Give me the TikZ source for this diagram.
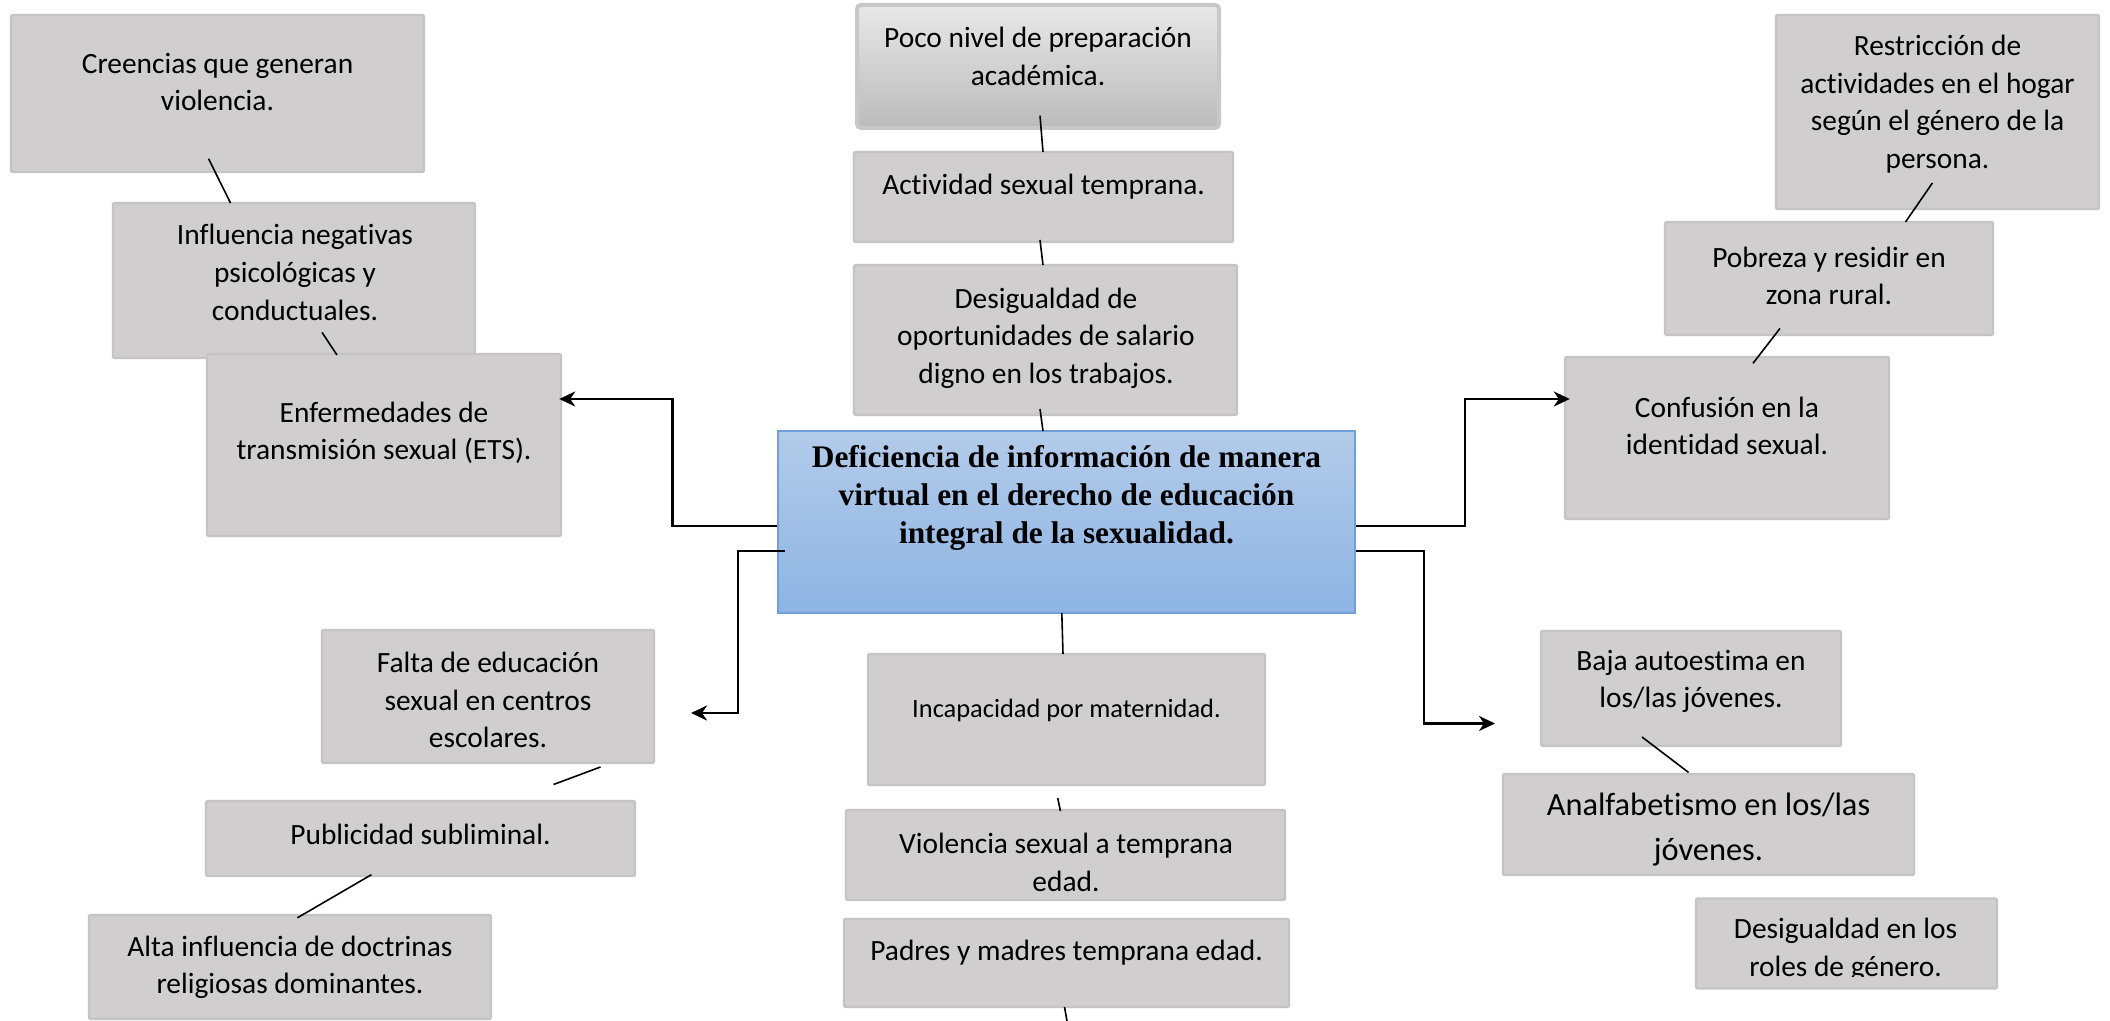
\documentclass[tikz,border=0pt]{standalone}
\usepackage{fontspec}
\setmainfont{Carlito}[Ligatures=CommonOff]
\newfontfamily\serifb{Liberation Serif}
\usetikzlibrary{arrows.meta,calc}
\definecolor{boxfill}{RGB}{208,206,207}
\definecolor{boxline}{RGB}{197,195,196}
\definecolor{pocotop}{RGB}{233,232,233}
\definecolor{pocomid}{RGB}{225,224,225}
\definecolor{pocobot}{RGB}{188,187,188}
\definecolor{pocoline}{RGB}{200,200,200}
\definecolor{ctop}{RGB}{179,203,234}
\definecolor{cbot}{RGB}{141,180,227}
\definecolor{cline}{RGB}{111,160,220}
\begin{document}
\begin{tikzpicture}[x=0.5pt,y=-0.5pt,
  gbox/.style={draw=boxline, fill=boxfill, line width=1.2pt, rounded corners=1pt, inner sep=0pt},
  txt/.style={align=center, inner sep=0pt, font=\fontsize{14.7}{18.8}\selectfont},
  link/.style={line width=0.8pt},
  arr/.style={line width=1.3pt, -{Stealth[length=8pt,width=7.5pt,inset=2.5pt]}}]
\useasboundingbox (0,0) rectangle (2110,1021);
\fill[white] (0,0) rectangle (2110,1021);

% boxes
\node[gbox, minimum width=206.5pt, minimum height=78.5pt] (cre) at (217.5,93.5) {};
\node[gbox, minimum width=181pt, minimum height=77.5pt] (inf) at (294,280.5) {};
\node[gbox, minimum width=177pt, minimum height=91pt] (enf) at (384,445) {};
\node[draw=pocoline, line width=2pt, rounded corners=2pt, top color=pocotop, middle color=pocomid, bottom color=pocobot, inner sep=0pt, minimum width=181pt, minimum height=61.5pt] (poco) at (1038,66.5) {};
\node[gbox, minimum width=189.5pt, minimum height=45pt] (act) at (1043.5,197) {};
\node[gbox, minimum width=191.5pt, minimum height=75pt] (des) at (1045.5,340) {};
\node[draw=cline, line width=1pt, top color=ctop, bottom color=cbot, inner sep=0pt, minimum width=288.5pt, minimum height=91pt] (central) at (1066.5,522) {};
\node[gbox, minimum width=161.5pt, minimum height=97pt] (res) at (1937.5,112) {};
\node[gbox, minimum width=164pt, minimum height=56.5pt] (pob) at (1829,278.5) {};
\node[gbox, minimum width=162pt, minimum height=81pt] (conf) at (1727,438) {};
\node[gbox, minimum width=166pt, minimum height=66.5pt] (fal) at (488,696.5) {};
\node[gbox, minimum width=214.5pt, minimum height=37.5pt] (pub) at (420.5,838.5) {};
\node[gbox, minimum width=201pt, minimum height=52pt] (alta) at (290,967) {};
\node[gbox, minimum width=198.5pt, minimum height=65.5pt] (inc) at (1066.5,719.5) {};
\node[gbox, minimum width=219.5pt, minimum height=45pt] (vio) at (1065.5,855) {};
\node[gbox, minimum width=222.5pt, minimum height=44pt] (pad) at (1066.5,963) {};
\node[gbox, minimum width=150pt, minimum height=57.5pt] (baja) at (1691,688.5) {};
\node[gbox, minimum width=205.5pt, minimum height=50.5pt] (ana) at (1708.5,824.5) {};
\node[gbox, minimum width=150.5pt, minimum height=45pt] (rol) at (1846.5,943.5) {};

% texts
\node[txt] (cre-t) at (217.5,82) {Creencias que generan\\violencia.};
\node[txt] (inf-t) at (295,272.5) {Influencia negativas\\psicológicas y\\conductuales.};
\node[txt] (enf-t) at (384,433) {Enfermedades de\\transmisión sexual (ETS).};
\node[txt] (poco-t) at (1038,56.5) {Poco nivel de preparación\\académica.};
\node[txt] (act-t) at (1043.5,187) {Actividad sexual temprana.};
\node[txt] (des-t) at (1046,338) {Desigualdad de\\oportunidades de salario\\digno en los trabajos.};
\node[txt, font=\serifb\bfseries\fontsize{15.7}{18.85}\selectfont] (central-t) at (1066.5,498) {Deficiencia de información de manera\\virtual en el derecho de educación\\integral de la sexualidad.};
\node[txt] (res-t) at (1937.5,104.3) {Restricción de\\actividades en el hogar\\según el género de la\\persona.};
\node[txt] (pob-t) at (1829,276) {Pobreza y residir en\\zona rural.};
\node[txt] (conf-t) at (1727,426) {Confusión en la\\identidad sexual.};
\node[txt] (fal-t) at (488,700) {Falta de educación\\sexual en centros\\escolares.};
\node[txt] (pub-t) at (420.5,834) {Publicidad subliminal.};
\node[txt] (alta-t) at (290,967.5) {Alta influencia de doctrinas\\religiosas dominantes.};
\node[txt, font=\fontsize{13.2}{17}\selectfont] (inc-t) at (1066.5,710.5) {Incapacidad por maternidad.};
\node[txt] (vio-t) at (1066,862.5) {Violencia sexual a temprana\\edad.};
\node[txt] (pad-t) at (1066.5,953) {Padres y madres temprana edad.};
\node[txt] (baja-t) at (1691,681.5) {Baja autoestima en\\los/las jóvenes.};
\node[txt, font=\fontsize{16.2}{22.2}\selectfont] (ana-t) at (1708.5,829.5) {Analfabetismo en los/las\\jóvenes.};
\begin{scope}
\clip (1696,898) rectangle (1997,976);
\node[txt] (rol-t) at (1845.5,950) {Desigualdad en los\\roles de género.};
\end{scope}

% connector points
\coordinate (l1a) at (208.6,158.8); \coordinate (l1b) at (230.5,203);
\coordinate (l2a) at (322,332.4); \coordinate (l2b) at (337,355);
\coordinate (l3a) at (1040,115.7); \coordinate (l3b) at (1043,152);
\coordinate (l4a) at (1040,240); \coordinate (l4b) at (1043,265);
\coordinate (l5a) at (1040,409); \coordinate (l5b) at (1043,431);
\coordinate (l6a) at (1061.8,613); \coordinate (l6b) at (1063,654);
\coordinate (l7a) at (1057.7,798); \coordinate (l7b) at (1060.4,811);
\coordinate (l8a) at (1064.5,1007); \coordinate (l8b) at (1067,1021);
\coordinate (l9a) at (1932.4,183); \coordinate (l9b) at (1905.5,222);
\coordinate (l10a) at (1780,328.4); \coordinate (l10b) at (1753,363.3);
\coordinate (l11a) at (600.5,767); \coordinate (l11b) at (553.5,784.5);
\coordinate (l12a) at (371.4,874.7); \coordinate (l12b) at (297.4,917.8);
\coordinate (l13a) at (1642,737); \coordinate (l13b) at (1688.5,772.4);

\draw[link] (l1a) -- (l1b);
\draw[link] (l2a) -- (l2b);
\draw[link] (l3a) -- (l3b);
\draw[link] (l4a) -- (l4b);
\draw[link] (l5a) -- (l5b);
\draw[link] (l6a) -- (l6b);
\draw[link] (l7a) -- (l7b);
\draw[link] (l8a) -- (l8b);
\draw[link] (l9a) -- (l9b);
\draw[link] (l10a) -- (l10b);
\draw[link] (l11a) -- (l11b);
\draw[link] (l12a) -- (l12b);
\draw[link] (l13a) -- (l13b);

% arrows
\coordinate (ca1) at (672.5,399);
\coordinate (ca2) at (738,713);
\coordinate (ca2e) at (691,713);
\coordinate (ca3) at (1465,399);
\coordinate (ca4) at (1424,723.5);
\coordinate (ca4e) at (1495,723.5);
\draw[arr] ([yshift=-2pt]central.west) -| (ca1) -- ([xshift=-1.5pt]enf.east |- ca1);
\draw[arr] ([xshift=4pt,yshift=-14.5pt]central.west) -| (ca2) -- (ca2e);
\draw[arr] ([yshift=-2pt]central.east) -| (ca3) -- ([xshift=3pt]conf.west |- ca3);
\draw[arr] ([yshift=-14.5pt]central.east) -| (ca4) -- (ca4e);
\end{tikzpicture}
\end{document}
